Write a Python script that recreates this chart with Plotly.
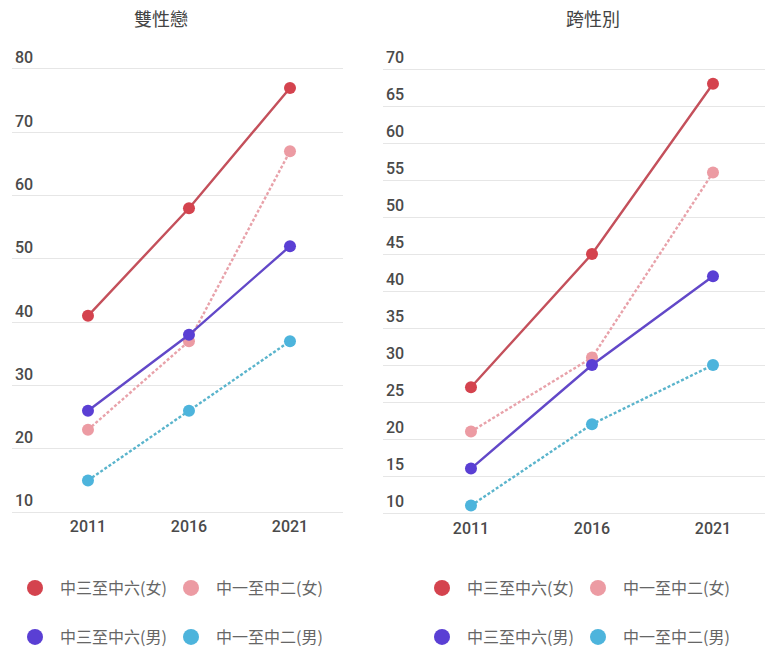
import plotly.graph_objects as go

W, H = 765, 647

years = [2011, 2016, 2021]
series_names = ["中三至中六(女)", "中一至中二(女)", "中三至中六(男)", "中一至中二(男)"]
panel_titles = ["雙性戀", "跨性別"]

# 雙性戀 (bisexual)
bi_f_senior = [41, 58, 77]
bi_f_junior = [23, 37, 67]
bi_m_senior = [26, 38, 52]
bi_m_junior = [15, 26, 37]

# 跨性別 (transgender)
tg_f_senior = [27, 45, 68]
tg_f_junior = [21, 31, 56]
tg_m_senior = [16, 30, 42]
tg_m_junior = [11, 22, 30]

left_ticks = [10, 20, 30, 40, 50, 60, 70, 80]
right_ticks = [10, 15, 20, 25, 30, 35, 40, 45, 50, 55, 60, 65, 70]

colors = ["#d4434e", "#ec9ba3", "#5a3fd4", "#4db4dc"]
line_colors = ["#c4505b", "#e8a2aa", "#6248c8", "#5ab4cc"]
dashes = ["solid", "3px,2px", "solid", "3px,2px"]

fig = go.Figure()

def px_x(p):
    return p / W

def px_y(p):
    return 1 - p / H

panels = [
    dict(data=[bi_f_senior, bi_f_junior, bi_m_senior, bi_m_junior], xa="x", ya="y",
         legends=["legend", "legend2"]),
    dict(data=[tg_f_senior, tg_f_junior, tg_m_senior, tg_m_junior], xa="x2", ya="y2",
         legends=["legend3", "legend4"]),
]

for p in panels:
    for i, vals in enumerate(p["data"]):
        fig.add_trace(go.Scatter(
            x=years, y=vals, mode="lines+markers", name=series_names[i],
            line=dict(color=line_colors[i], width=2.4, dash=dashes[i]),
            marker=dict(color=colors[i], size=12),
            xaxis=p["xa"], yaxis=p["ya"], showlegend=False,
        ))
    for i in range(4):
        fig.add_trace(go.Scatter(
            x=[None], y=[None], mode="markers", name=series_names[i],
            marker=dict(color=colors[i], size=16),
            xaxis=p["xa"], yaxis=p["ya"], showlegend=True,
            legend=p["legends"][i // 2],
        ))

tick_font = dict(family="Roboto", size=16, color="#4a4a4a", weight=500)
grid = "#e6e6e6"

fig.update_layout(
    width=W, height=H,
    margin=dict(l=0, r=0, t=0, b=0, autoexpand=False),
    paper_bgcolor="white", plot_bgcolor="white",
    xaxis=dict(domain=[px_x(12), px_x(343)], range=[2007.238, 2023.624],
               tickvals=years, showgrid=False, zeroline=False, showline=False,
               tickfont=tick_font, ticks="", automargin=False),
    yaxis=dict(domain=[px_y(515.2), px_y(40.5)], range=[9.5, 84.5],
               tickvals=left_ticks, ticklabelposition="inside top",
               showgrid=True, gridcolor=grid, gridwidth=1, zeroline=False,
               showline=False, tickfont=tick_font, ticks="", automargin=False),
    xaxis2=dict(domain=[px_x(383), 1.0], range=[2007.364, 2023.149],
                tickvals=years, showgrid=False, zeroline=False, showline=False,
                tickfont=tick_font, ticks="", anchor="y2", automargin=False),
    yaxis2=dict(domain=[px_y(516.7), px_y(43.1)], range=[9.5, 73.5],
                tickvals=right_ticks, ticklabelposition="inside top",
                showgrid=True, gridcolor=grid, gridwidth=1, zeroline=False,
                showline=False, tickfont=tick_font, ticks="", anchor="x2",
                automargin=False),
    showlegend=True,
)

leg_font = dict(family="Noto Sans CJK TC", size=16, color="#666666")
leg_common = dict(orientation="h", xref="container", yref="container",
                  xanchor="left", yanchor="middle", entrywidth=101,
                  entrywidthmode="pixels", itemwidth=40, font=leg_font,
                  bgcolor="rgba(0,0,0,0)", traceorder="normal")
fig.update_layout(
    legend=dict(x=10 / W, y=1 - 588 / H, **leg_common),
    legend2=dict(x=10 / W, y=1 - 637 / H, **leg_common),
    legend3=dict(x=417 / W, y=1 - 588 / H, **leg_common),
    legend4=dict(x=417 / W, y=1 - 637 / H, **leg_common),
)

title_font = dict(family="Noto Sans CJK TC", size=18, color="#444444")
for txt, cx in zip(panel_titles, [161, 593]):
    fig.add_annotation(text=txt, x=px_x(cx), y=px_y(18), xref="paper", yref="paper",
                       showarrow=False, font=title_font, xanchor="center", yanchor="middle")

fig.write_html("out.html")
